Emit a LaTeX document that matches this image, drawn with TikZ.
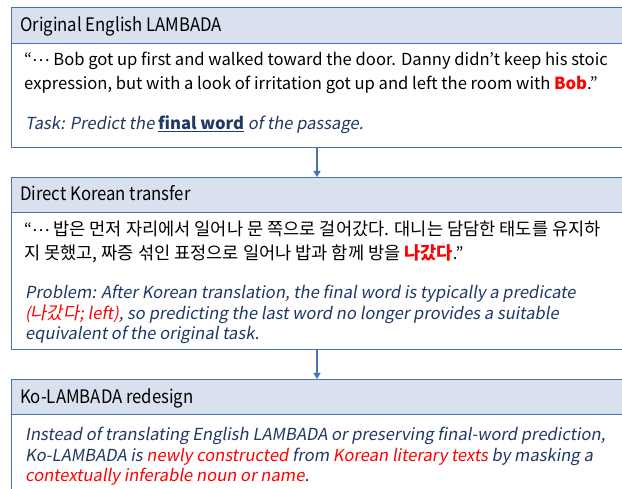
\documentclass[tikz,border=0pt]{standalone}
\usepackage{fontspec}
\setmainfont{Noto Sans CJK KR}[AutoFakeSlant=0.18]
\newfontfamily\krfont{Noto Sans CJK KR}[Scale=1.06,AutoFakeSlant=0.18]
\newfontfamily\headfont{Noto Sans CJK KR}[FakeStretch=0.9]
\usetikzlibrary{arrows.meta}
\definecolor{bord}{HTML}{4A72B2}
\definecolor{hfill}{HTML}{DAE1EE}
\definecolor{navy}{HTML}{1F3864}
\definecolor{hred}{HTML}{FF0000}
\newcommand{\rd}[1]{\textcolor{hred}{#1}}
\newcommand{\kr}[1]{{\krfont #1}}
\newcommand{\mdots}{\raisebox{0.27em}{…}}
\tikzset{
  headbox/.style={draw=bord, line width=1.3pt, fill=hfill, anchor=north west, minimum width=640pt, inner sep=0pt},
  bodybox/.style={draw=bord, line width=1.3pt, fill=white, anchor=north west, minimum width=640pt, inner sep=0pt},
  headtext/.style={anchor=base west, inner sep=0pt, font=\headfont\fontsize{18.6}{22}\selectfont},
  quotetext/.style={anchor=base west, inner sep=0pt, align=left, font=\fontsize{16.6}{24}\selectfont},
  noteitext/.style={anchor=base west, inner sep=0pt, align=left, text=navy, font=\fontsize{16.6}{20.5}\selectfont\itshape},
  flowarrow/.style={draw=bord, line width=1.3pt, -{Triangle[length=6pt,width=7pt]}}
}
\begin{document}
\begin{tikzpicture}[x=1pt,y=-1pt]
\useasboundingbox (0,0) rectangle (622,489);
\clip (0,0) rectangle (622,489);
% box 1
\node[bodybox, minimum height=104pt] (b1) at (11,43) {};
\node[headbox, minimum height=36pt] (h1) at (11,7) {};
\node[headtext] (t1) at (20,31.5) {Original English LAMBADA};
\node[quotetext] (q1) at (24,90) {“\mdots{} Bob got up first and walked toward the door. Danny didn’t keep his stoic\\expression, but with a look of irritation got up and left the room with \textbf{\rd{Bob}}.”};
\node[noteitext] (n1) at (25,130) {Task: Predict the \textbf{\underline{final word}} of the passage.};
% box 2
\node[bodybox, minimum height=137pt] (b2) at (11,212) {};
\node[headbox, minimum height=35pt] (h2) at (11,177) {};
\node[headtext] (t2) at (20,201) {Direct Korean transfer};
\node[quotetext] (q2) at (24,260) {“\mdots{} \kr{밥은 먼저 자리에서 일어나 문 쪽으로 걸어갔다. 대니는 담담한 태도를 유지하}\\\kr{지 못했고, 짜증 섞인 표정으로 일어나 밥과 함께 방을} \textbf{\rd{\kr{나갔다}}}.”};
\node[noteitext] (n2) at (25,340) {Problem: After Korean translation, the final word is typically a predicate\\\rd{(\kr{나갔다}; left)}, so predicting the last word no longer provides a suitable\\equivalent of the original task.};
% box 3
\node[bodybox, minimum height=120pt] (b3) at (11,414) {};
\node[headbox, minimum height=35pt] (h3) at (11,379) {};
\node[headtext] (t3) at (20,403) {Ko-LAMBADA redesign};
\node[noteitext] (n3) at (25,482) {Instead of translating English LAMBADA or preserving final-word prediction,\\Ko-LAMBADA is \rd{newly constructed} from \rd{Korean literary texts} by masking a\\\rd{contextually inferable noun or name}.};
% arrows
\coordinate (ax) at (317,0);
\draw[flowarrow] (b1.south -| ax) -- (h2.north -| ax);
\draw[flowarrow] (b2.south -| ax) -- (h3.north -| ax);
\end{tikzpicture}
\end{document}
